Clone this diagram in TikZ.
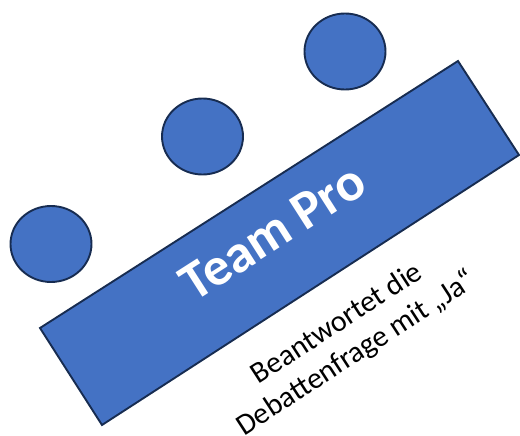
\documentclass[tikz,border=0pt]{standalone}
\usepackage{fontspec}
\setmainfont{Carlito}
\usetikzlibrary{shapes.geometric}
\definecolor{fillblue}{HTML}{4472C4}
\definecolor{edgeblue}{HTML}{172C51}
\begin{document}
\begin{tikzpicture}[x=1pt,y=-1pt,
  shapestyle/.style={fill=fillblue,draw=edgeblue,line width=1.9pt},
  seat/.style={shapestyle,ellipse,minimum width=81pt,minimum height=76pt,inner sep=0pt,outer sep=0pt}]
\useasboundingbox (0,0) rectangle (520,436);
\draw[shapestyle,line join=miter] (40,328) -- (102,425) -- (519,155) -- (458,61) -- cycle;
\node[seat] (c1) at (51,244) {};
\node[seat] (c2) at (202.5,136.5) {};
\node[seat] (c3) at (345,51.5) {};
\node[text=white,font=\fontsize{54}{62}\selectfont\bfseries,rotate=32.6] (title) at (273,232) {Team Pro};
\node[text=black,font=\fontsize{30}{35.5}\selectfont,rotate=33,align=center] (sub) at (347,339) {Beantwortet die\\Debattenfrage mit „Ja“};
\end{tikzpicture}
\end{document}
